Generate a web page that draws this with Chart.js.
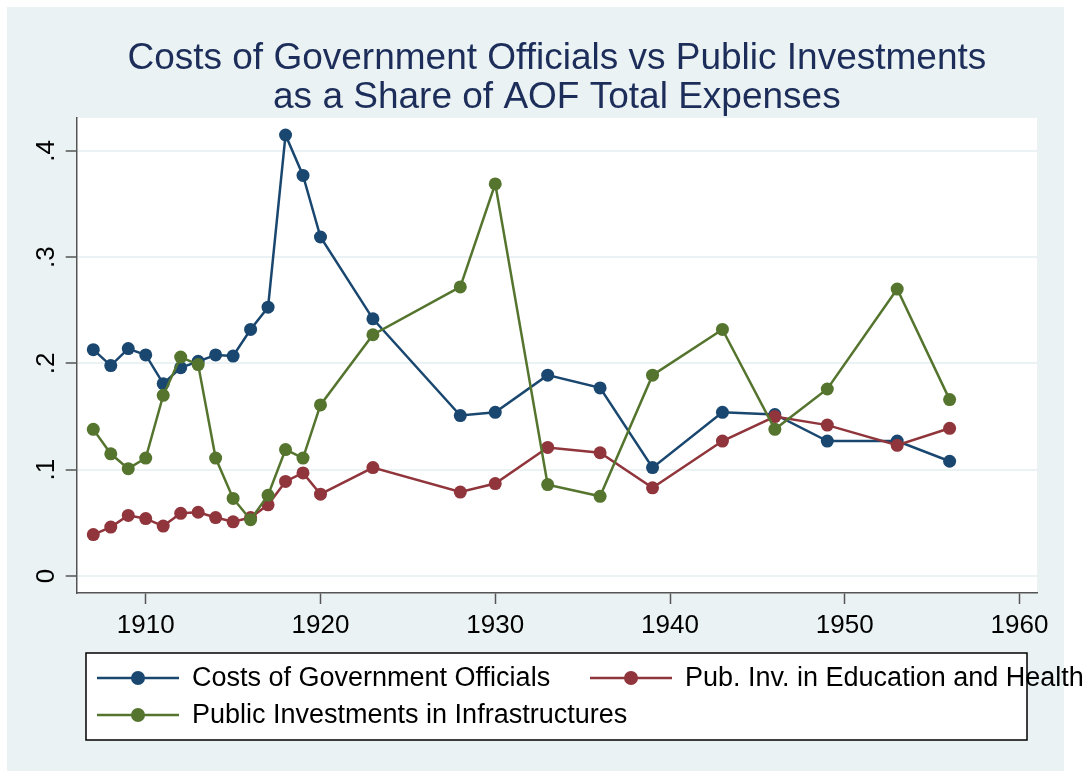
<!DOCTYPE html>
<html>
<head>
<meta charset="utf-8">
<title>Costs of Government Officials vs Public Investments</title>
<script src="https://cdn.jsdelivr.net/npm/chart.js@4.4.0/dist/chart.umd.min.js"></script>
<style>
  body { margin: 0; background: #ffffff; }
  #wrap { width: 1089px; height: 771px; position: relative; }
</style>
</head>
<body>
<div id="wrap"><canvas id="myChart"></canvas></div>
<script>
var years = [1907, 1908, 1909, 1910, 1911, 1912, 1913, 1914, 1915, 1916, 1917, 1918, 1919, 1920,
             1923, 1928, 1930, 1933, 1936, 1939, 1943, 1946, 1949, 1953, 1956]
var officials = [0.213, 0.198, 0.214, 0.208, 0.181, 0.196, 0.202, 0.208, 0.207, 0.232, 0.253, 0.415, 0.377, 0.319,
                 0.242, 0.151, 0.154, 0.189, 0.177, 0.102, 0.154, 0.152, 0.127, 0.127, 0.108]
var eduHealth = [0.039, 0.046, 0.057, 0.054, 0.047, 0.059, 0.060, 0.055, 0.051, 0.055, 0.067, 0.089, 0.097, 0.077,
                 0.102, 0.079, 0.087, 0.121, 0.116, 0.083, 0.127, 0.150, 0.142, 0.123, 0.139]
var infra = [0.138, 0.115, 0.101, 0.111, 0.170, 0.206, 0.199, 0.111, 0.073, 0.053, 0.076, 0.119, 0.111, 0.161,
             0.227, 0.272, 0.369, 0.086, 0.075, 0.189, 0.232, 0.138, 0.176, 0.270, 0.166]

var seriesNames = ['Costs of Government Officials', 'Pub. Inv. in Education and Health', 'Public Investments in Infrastructures']
var titleLines = ['Costs of Government Officials vs Public Investments', 'as a Share of AOF Total Expenses']
var xTicks = [1910, 1920, 1930, 1940, 1950, 1960]
var yTicks = [0, 0.1, 0.2, 0.3, 0.4]
var yTickLabels = ['0', '.1', '.2', '.3', '.4']

var navy = '#1a476f'
var maroon = '#90353b'
var green = '#55752f'
var paleBlue = '#eaf2f3'
var axisGray = '#555555'

function toPoints(values) {
    let pts = []
    for (let i = 0; i < years.length; i++) {
        pts.push({ x: years[i], y: values[i] })
    }
    return pts
}

function series(label, values, color, order) {
    return {
        label: label,
        data: toPoints(values),
        borderColor: color,
        backgroundColor: color,
        borderWidth: 2.5,
        pointRadius: 6.5,
        pointBorderWidth: 0,
        pointBackgroundColor: color,
        tension: 0,
        order: order
    }
}

Chart.defaults.font.family = '"Liberation Sans", Arial, sans-serif'

// stata-like background: pale outer frame, white plot region
const backgroundPlugin = {
    id: 'stataBackground',
    beforeDraw(chart) {
        const c = chart.ctx
        const a = chart.chartArea
        c.save()
        c.fillStyle = '#ffffff'
        c.fillRect(0, 0, chart.width, chart.height)
        c.fillStyle = paleBlue
        c.fillRect(7, 7, 1057, 764)
        c.fillStyle = '#ffffff'
        c.fillRect(a.left, a.top, a.right - a.left, a.bottom - a.top)
        c.restore()
    }
}

// boxed legend with line + marker symbols, two columns
const legendPlugin = {
    id: 'stataLegend',
    afterDraw(chart) {
        const c = chart.ctx
        const items = [
            { name: seriesNames[0], color: navy, x: 97, y: 678 },
            { name: seriesNames[1], color: maroon, x: 590, y: 678 },
            { name: seriesNames[2], color: green, x: 97, y: 715 }
        ]
        c.save()
        c.fillStyle = '#ffffff'
        c.fillRect(86, 653, 941, 87)
        c.strokeStyle = '#000000'
        c.lineWidth = 1.5
        c.strokeRect(86, 653, 941, 87)
        c.font = '27px "Liberation Sans", Arial, sans-serif'
        c.textBaseline = 'middle'
        c.textAlign = 'left'
        items.forEach((it) => {
            c.strokeStyle = it.color
            c.lineWidth = 2.5
            c.beginPath()
            c.moveTo(it.x, it.y)
            c.lineTo(it.x + 82, it.y)
            c.stroke()
            c.fillStyle = it.color
            c.beginPath()
            c.arc(it.x + 41, it.y, 7, 0, Math.PI * 2)
            c.fill()
            c.fillStyle = '#000000'
            c.fillText(it.name, it.x + 95, it.y + 1)
        })
        c.restore()
    }
}

const abc = document.getElementById('myChart')
const myChart = new Chart(abc, {
    type: 'line',
    data: {
        datasets: [
            series(seriesNames[0], officials, navy, 2),
            series(seriesNames[1], eduHealth, maroon, 1),
            series(seriesNames[2], infra, green, 0)
        ]
    },
    options: {
        responsive: true,
        maintainAspectRatio: false,
        animation: false,
        layout: {
            padding: { left: 0, right: 52, top: 0, bottom: 128 }
        },
        plugins: {
            legend: { display: false },
            tooltip: { enabled: false },
            title: {
                display: true,
                text: titleLines,
                color: '#1c2d5a',
                fullSize: false,
                font: { size: 37, weight: 'normal', lineHeight: 1.054 },
                padding: { top: 39, bottom: 1 }
            }
        },
        scales: {
            x: {
                type: 'linear',
                min: 1906.05,
                max: 1961,
                afterBuildTicks: (s) => { s.ticks = xTicks.map((v) => ({ value: v })) },
                afterFit: (s) => { s.height = 50 },
                ticks: {
                    color: '#000000',
                    font: { size: 26 },
                    padding: 6,
                    maxRotation: 0,
                    autoSkip: false,
                    callback: (v) => String(v)
                },
                grid: {
                    drawOnChartArea: false,
                    tickColor: axisGray,
                    tickLength: 11,
                    tickWidth: 1.5
                },
                border: { color: axisGray, width: 1.5 }
            },
            y: {
                type: 'linear',
                min: -0.016,
                max: 0.431,
                afterBuildTicks: (s) => { s.ticks = yTicks.map((v) => ({ value: v })) },
                afterFit: (s) => { s.width = 76.7 },
                ticks: {
                    color: '#000000',
                    font: { size: 26 },
                    minRotation: 90,
                    maxRotation: 90,
                    crossAlign: 'center',
                    padding: 8,
                    autoSkip: false,
                    callback: (v, i) => yTickLabels[i]
                },
                grid: {
                    color: paleBlue,
                    lineWidth: 2,
                    tickColor: axisGray,
                    tickLength: 11,
                    tickWidth: 1.5
                },
                border: { color: axisGray, width: 1.5 }
            }
        }
    },
    plugins: [backgroundPlugin, legendPlugin]
})
</script>
</body>
</html>
